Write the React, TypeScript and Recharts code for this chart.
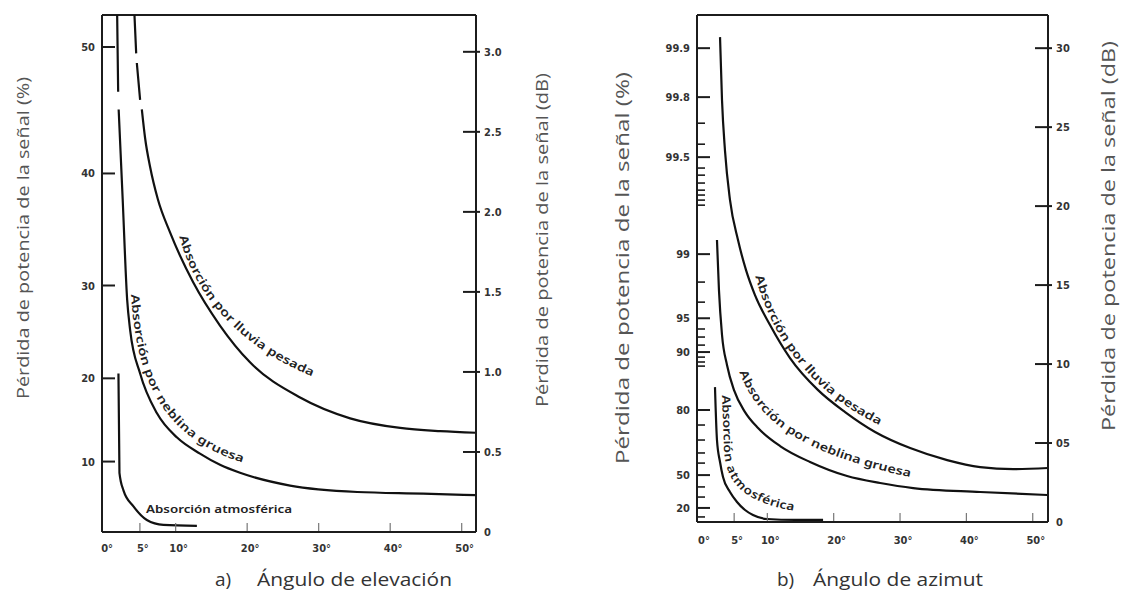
import React from "react";
import { LineChart, Line, XAxis, YAxis, ReferenceLine } from "recharts";

const INK = "#1c1c1c";
const TICK_FONT = "'DejaVu Sans Condensed', 'Liberation Sans Narrow', 'DejaVu Sans', sans-serif";
const TITLE_FONT = "'Open Sans', 'Noto Sans', sans-serif";
const CURVE_FONT = "'Noto Sans', 'DejaVu Sans', sans-serif";

// shared x axis (degrees)
const angleTicks = [0, 5, 10, 20, 30, 40, 50];
const angleLabels = ["0°", "5°", "10°", "20°", "30°", "40°", "50°"];

// a) elevation — right axis in dB, left axis in % (placed at its dB equivalent)
const elevDbTicks = [0, 0.5, 1, 1.5, 2, 2.5, 3];
const elevDbLabels = ["0", "0.5", "1.0", "1.5", "2.0", "2.5", "3.0"];
const elevPctLabels = ["50", "40", "30", "20", "10"];
const elevPctPos = [3.03, 2.24, 1.54, 0.96, 0.44];

const elevRainDeg = [4.24, 4.48, 4.52, 4.57, 5.03, 5.1, 5.27, 5.73, 6.43, 7.5, 9.23, 12.45, 16.2, 20.4, 27.4, 34.4, 41.4, 47, 52];
const elevRainDb = [3.23, 2.99, null, 2.93, 2.7, null, 2.64, 2.46, 2.28, 2.08, 1.87, 1.56, 1.29, 1.06, 0.84, 0.71, 0.65, 0.63, 0.62];

const elevFogDeg = [1.82, 1.96, 1.99, 2.03, 2.59, 3.22, 3.64, 5.03, 7.41, 10.2, 13.4, 16.2, 19.0, 26.0, 35.4, 44.6, 52.0];
const elevFogDb = [3.23, 2.75, null, 2.64, 2.08, 1.45, 1.26, 0.99, 0.74, 0.59, 0.49, 0.42, 0.37, 0.29, 0.25, 0.24, 0.23];

const elevAtmDeg = [2.0, 2.14, 2.7, 4.1, 5.97, 8.29, 12.97];
const elevAtmDb = [0.99, 0.37, 0.26, 0.16, 0.075, 0.044, 0.038];

// b) azimuth
const azDbTicks = [0, 5, 10, 15, 20, 25, 30];
const azDbLabels = ["0", "05", "10", "15", "20", "25", "30"];
const azPctLabels = ["99.9", "99.8", "99.5", "99", "95", "90", "80", "50", "20"];
const azPctPos = [30.0, 26.9, 23.1, 16.96, 12.9, 10.76, 7.09, 2.97, 0.89];
const azPctMinor = [25.25, 23.92, 22.41, 21.96, 21.46, 21.01, 20.7, 20.38, 20.06, 15.19, 13.92, 12.22, 11.71, 11.2, 10.44, 10.13, 9.87, 6.14, 5.19, 4.37, 3.73, 2.22, 1.58, 0.32];

const azRainDeg = [2.87, 3.17, 3.62, 4.37, 5.58, 6.79, 8.14, 10.41, 13.42, 17.65, 21.72, 26.24, 31.52, 37.1, 42.08, 47.06, 52.3];
const azRainDb = [30.7, 26.7, 23.5, 20.4, 17.85, 15.95, 14.37, 12.47, 10.38, 8.35, 6.96, 5.7, 4.68, 3.92, 3.48, 3.35, 3.42];

const azFogDeg = [2.41, 2.71, 3.17, 3.92, 4.98, 6.64, 8.6, 11.92, 16.44, 22.02, 27.0, 31.98, 42.08, 52.19];
const azFogDb = [17.85, 14.68, 11.84, 9.94, 8.35, 6.96, 5.95, 4.81, 3.8, 2.91, 2.47, 2.15, 1.9, 1.71];

const azAtmDeg = [2.11, 2.41, 2.87, 3.32, 4.37, 5.43, 6.64, 7.84, 9.95, 14.18, 18.4];
const azAtmDb = [8.54, 5.19, 3.8, 2.85, 1.9, 1.27, 0.76, 0.44, 0.19, 0.13, 0.13];

type Pt = { deg: number; db: number | null };
const toPts = (deg: number[], db: (number | null)[]): Pt[] =>
  deg.map((d, i) => ({ deg: d, db: db[i] }));

const findLabel = (v: number, pos: number[], labels: string[]) => {
  const i = pos.findIndex((p) => Math.abs(p - v) < 1e-6);
  return i >= 0 ? labels[i] : null;
};

interface PanelProps {
  left: number;
  width: number;
  margin: { top: number; right: number; bottom: number; left: number };
  xDomain: [number, number];
  yTop: number;
  pctPos: number[];
  pctLabels: string[];
  pctMinor: number[];
  dbTicks: number[];
  dbLabels: string[];
  xLabelDy: number;
  series: { data: Pt[]; width: number }[];
}

function Panel(props: PanelProps) {
  const { pctPos, pctLabels, dbTicks, dbLabels } = props;

  const leftTick = (p: any) => {
    const v = p.payload.value;
    const label = findLabel(v, pctPos, pctLabels);
    return (
      <g>
        <line x1={p.x} x2={p.x + (label ? 13 : 8)} y1={p.y} y2={p.y} stroke={INK} strokeWidth={label ? 2 : 1.6} />
        {label && (
          <text x={p.x - 7} y={p.y} dy={4} textAnchor="end" fontFamily={TICK_FONT} fontWeight="bold" fontSize={11} fill="#333">
            {label}
          </text>
        )}
      </g>
    );
  };

  const rightTick = (p: any) => {
    const v = p.payload.value;
    const label = findLabel(v, dbTicks, dbLabels);
    return (
      <g>
        {v !== 0 && <line x1={p.x - 13} x2={p.x + 4} y1={p.y} y2={p.y} stroke={INK} strokeWidth={2} />}
        <text x={p.x + 8} y={p.y} dy={4} textAnchor="start" fontFamily={TICK_FONT} fontWeight="bold" fontSize={11} fill="#333">
          {label}
        </text>
      </g>
    );
  };

  const bottomTick = (p: any) => {
    const v = p.payload.value;
    const label = findLabel(v, angleTicks, angleLabels);
    return (
      <g>
        {v !== 0 && <line x1={p.x} x2={p.x} y1={p.y - 9} y2={p.y - 1} stroke="#777" strokeWidth={1.2} />}
        <text x={p.x + 3} y={p.y} dy={props.xLabelDy} textAnchor="middle" fontFamily={TICK_FONT} fontWeight="bold" fontSize={11} fill="#333">
          {label}
        </text>
      </g>
    );
  };

  return (
    <div style={{ position: "absolute", left: props.left, top: 0 }}>
      <LineChart width={props.width} height={594} margin={props.margin}>
        <XAxis
          dataKey="deg"
          type="number"
          domain={props.xDomain}
          ticks={angleTicks}
          interval={0}
          allowDataOverflow
          tickSize={0}
          tickMargin={0}
          height={30}
          axisLine={{ stroke: INK, strokeWidth: 2 }}
          tickLine={false}
          tick={bottomTick}
        />
        <YAxis
          yAxisId="pct"
          orientation="left"
          type="number"
          domain={[0, props.yTop]}
          ticks={[...pctPos, ...props.pctMinor]}
          interval={0}
          allowDataOverflow
          tickSize={0}
          tickMargin={0}
          width={40}
          axisLine={{ stroke: INK, strokeWidth: 2 }}
          tickLine={false}
          tick={leftTick}
        />
        <YAxis
          yAxisId="db"
          orientation="right"
          type="number"
          domain={[0, props.yTop]}
          ticks={dbTicks}
          interval={0}
          allowDataOverflow
          tickSize={0}
          tickMargin={0}
          width={40}
          axisLine={{ stroke: INK, strokeWidth: 2 }}
          tickLine={false}
          tick={rightTick}
        />
        <ReferenceLine yAxisId="db" y={props.yTop} stroke={INK} strokeWidth={2} />
        {props.series.map((s, i) => (
          <Line
            key={i}
            yAxisId="db"
            data={s.data}
            dataKey="db"
            type="monotone"
            stroke="#111"
            strokeWidth={s.width}
            dot={false}
            activeDot={false}
            connectNulls={false}
            isAnimationActive={false}
          />
        ))}
      </LineChart>
    </div>
  );
}

const vTitle = (x: number, cy: number, len: number, size: number, text: string) => (
  <text
    transform={`translate(${x},${cy}) rotate(-90)`}
    textAnchor="middle"
    dominantBaseline="central"
    fontFamily={TITLE_FONT}
    fontSize={size}
    fill="#555"
    textLength={len}
    lengthAdjust="spacingAndGlyphs"
  >
    {text}
  </text>
);

const curveLabel = (id: string, d: string, text: string, len: number) => (
  <g key={id}>
    <path id={id} d={d} fill="none" stroke="none" />
    <text fontFamily={CURVE_FONT} fontWeight={600} fontSize={11.5} fill="#222" dominantBaseline="central">
      <textPath href={`#${id}`} textLength={len} lengthAdjust="spacingAndGlyphs">
        {text}
      </textPath>
    </text>
  </g>
);

export default function App() {
  return (
    <div style={{ position: "absolute", left: 0, top: 0, width: 1127, height: 594, background: "#fff", overflow: "hidden" }}>
      <Panel
        left={0}
        width={600}
        margin={{ top: 15, right: 84, bottom: 32, left: 62 }}
        xDomain={[-0.3, 52]}
        yTop={3.23}
        pctPos={elevPctPos}
        pctLabels={elevPctLabels}
        pctMinor={[]}
        dbTicks={elevDbTicks}
        dbLabels={elevDbLabels}
        xLabelDy={20}
        series={[
          { data: toPts(elevRainDeg, elevRainDb), width: 2.2 },
          { data: toPts(elevFogDeg, elevFogDb), width: 2.2 },
          { data: toPts(elevAtmDeg, elevAtmDb), width: 2.2 },
        ]}
      />
      <Panel
        left={600}
        width={527}
        margin={{ top: 15, right: 39, bottom: 42, left: 57 }}
        xDomain={[-0.6, 52.3]}
        yTop={32.1}
        pctPos={azPctPos}
        pctLabels={azPctLabels}
        pctMinor={azPctMinor}
        dbTicks={azDbTicks}
        dbLabels={azDbLabels}
        xLabelDy={22}
        series={[
          { data: toPts(azRainDeg, azRainDb), width: 2.2 },
          { data: toPts(azFogDeg, azFogDb), width: 2.2 },
          { data: toPts(azAtmDeg, azAtmDb), width: 2.2 },
        ]}
      />
      <svg width={1127} height={594} style={{ position: "absolute", left: 0, top: 0, pointerEvents: "none" }}>
        {vTitle(22, 238, 322, 17, "Pérdida de potencia de la señal (%)")}
        {vTitle(541, 240, 334, 17, "Pérdida de potencia de la señal (dB)")}
        {vTitle(622, 268, 392, 19, "Pérdida de potencia de la señal (%)")}
        {vTitle(1108, 236, 390, 19, "Pérdida de potencia de la señal (dB)")}

        {curveLabel("lr", "M 184 235 C 201 299, 251 349, 325 376", "Absorción por lluvia pesada", 196)}
        {curveLabel("lf", "M 136 294 C 142 400, 182 448, 277 466", "Absorción por neblina gruesa", 212)}
        <text x={146} y={508} dominantBaseline="central" fontFamily={CURVE_FONT} fontWeight={600} fontSize={11.5} fill="#222" textLength={146} lengthAdjust="spacingAndGlyphs">
          Absorción atmosférica
        </text>
        {curveLabel("rr", "M 760 275 C 775 330, 810 390, 895 427", "Absorción por lluvia pesada", 196)}
        {curveLabel("rf", "M 744 370 C 762 418, 802 448, 910 472", "Absorción por neblina gruesa", 205)}
        {curveLabel("ra", "M 727 395 L 729 450 C 731 482, 747 501, 815 509", "Absorción atmosférica", 150)}

        <text x={215} y={586} fontFamily={TITLE_FONT} fontSize={19} fill="#333">a)</text>
        <text x={257} y={586} fontFamily={TITLE_FONT} fontSize={19} fill="#333" textLength={195} lengthAdjust="spacingAndGlyphs">
          Ángulo de elevación
        </text>
        <text x={777} y={586} fontFamily={TITLE_FONT} fontSize={19} fill="#333">b)</text>
        <text x={813} y={586} fontFamily={TITLE_FONT} fontSize={19} fill="#333" textLength={170} lengthAdjust="spacingAndGlyphs">
          Ángulo de azimut
        </text>
      </svg>
    </div>
  );
}
